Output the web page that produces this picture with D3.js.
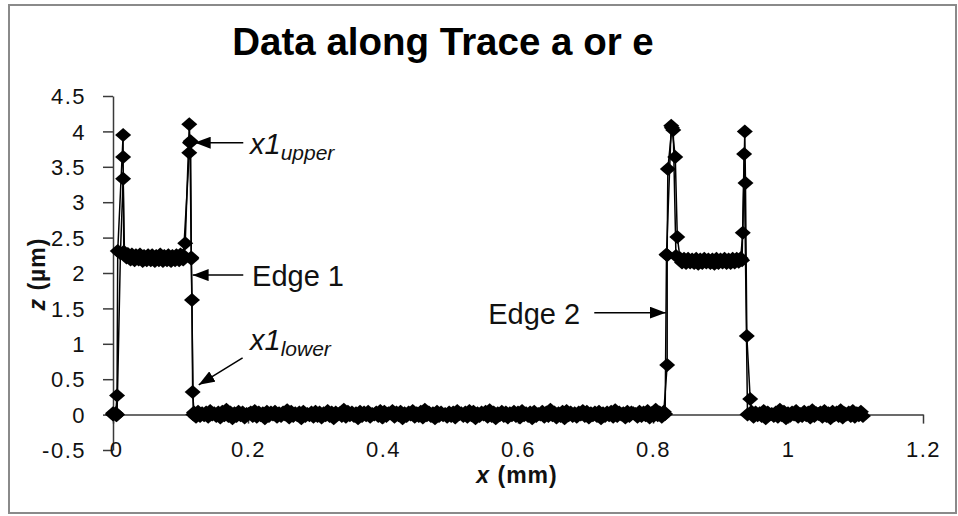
<!DOCTYPE html>
<html><head><meta charset="utf-8">
<script src="https://cdn.jsdelivr.net/npm/d3@7"></script>
<style>
body{margin:0;background:#fff}
svg{display:block}
text{font-family:"Liberation Sans",Arial,sans-serif;fill:#111}
</style>
</head><body>
<svg id="chart" width="958" height="516"></svg>
<script>
const chartTitle = "Data along Trace a or e";
const xTicks = [0, 0.2, 0.4, 0.6, 0.8, 1, 1.2];
const yTicks = [-0.5, 0, 0.5, 1, 1.5, 2, 2.5, 3, 3.5, 4, 4.5];

// Trace a : [x (mm), z (µm)]
const traceA = [
  [0.000,0.00],[0.004,0.02],[0.006,0.27],[0.007,2.31],[0.015,3.95],[0.015,3.64],[0.016,2.30],
  [0.022,2.27],[0.028,2.26],[0.034,2.25],[0.040,2.26],[0.046,2.24],[0.052,2.25],[0.058,2.25],[0.064,2.24],
  [0.070,2.26],[0.076,2.24],[0.082,2.25],[0.088,2.24],[0.094,2.25],[0.100,2.26],[0.104,2.25],
  [0.107,2.42],[0.113,4.10],[0.114,3.84],[0.116,2.22],[0.117,1.62],[0.118,0.32],
  [0.120,0.03],[0.126,0.04],[0.132,0.02],[0.138,0.03],[0.144,0.05],[0.150,0.02],[0.156,0.03],[0.162,0.04],[0.168,0.07],[0.174,0.03],
  [0.180,0.02],[0.186,0.04],[0.192,0.03],[0.198,0.01],[0.204,0.03],[0.210,0.05],[0.216,0.03],[0.222,0.02],[0.228,0.04],[0.234,0.03],
  [0.240,0.04],[0.246,0.02],[0.252,0.03],[0.258,0.06],[0.264,0.04],[0.270,0.02],[0.276,0.03],[0.282,0.04],[0.288,0.01],[0.294,0.03],
  [0.300,0.04],[0.306,0.03],[0.312,0.02],[0.318,0.05],[0.324,0.03],[0.330,0.03],[0.336,0.02],[0.342,0.07],[0.348,0.04],[0.354,0.03],
  [0.360,0.02],[0.366,0.04],[0.372,0.03],[0.378,0.04],[0.384,0.01],[0.390,0.03],[0.396,0.05],[0.402,0.04],[0.408,0.02],[0.414,0.05],
  [0.420,0.03],[0.426,0.04],[0.432,0.02],[0.438,0.03],[0.444,0.05],[0.450,0.02],[0.456,0.04],[0.462,0.07],[0.468,0.03],[0.474,0.02],
  [0.480,0.04],[0.486,0.03],[0.492,0.01],[0.498,0.03],[0.504,0.03],[0.510,0.05],[0.516,0.02],[0.522,0.03],[0.528,0.05],[0.534,0.04],
  [0.540,0.02],[0.546,0.03],[0.552,0.04],[0.558,0.06],[0.564,0.03],[0.570,0.02],[0.576,0.04],[0.582,0.03],[0.588,0.02],[0.594,0.04],
  [0.600,0.03],[0.606,0.05],[0.612,0.02],[0.618,0.03],[0.624,0.04],[0.630,0.01],[0.636,0.04],[0.642,0.03],[0.648,0.07],[0.654,0.03],
  [0.660,0.02],[0.666,0.04],[0.672,0.05],[0.678,0.03],[0.684,0.02],[0.690,0.03],[0.696,0.05],[0.702,0.04],[0.708,0.02],[0.714,0.03],
  [0.720,0.04],[0.726,0.02],[0.732,0.03],[0.738,0.04],[0.744,0.06],[0.750,0.03],[0.756,0.02],[0.762,0.04],[0.768,0.03],[0.774,0.01],
  [0.780,0.04],[0.786,0.03],[0.792,0.05],[0.798,0.02],[0.804,0.07],[0.810,0.03],[0.816,0.04],
  [0.821,0.70],[0.821,2.25],[0.822,3.47],[0.828,4.05],[0.833,3.64],[0.836,2.51],
  [0.840,2.21],[0.846,2.20],[0.852,2.20],[0.858,2.19],[0.864,2.20],[0.870,2.19],[0.876,2.20],[0.882,2.19],
  [0.888,2.19],[0.894,2.20],[0.900,2.19],[0.906,2.20],[0.912,2.19],[0.918,2.20],[0.924,2.20],[0.930,2.21],
  [0.933,2.57],[0.936,4.00],[0.937,3.27],[0.939,1.11],[0.944,0.22],
  [0.946,0.04],[0.952,0.03],[0.958,0.02],[0.964,0.05],[0.970,0.03],[0.976,0.01],[0.982,0.03],[0.988,0.07],[0.994,0.04],[1.000,0.02],
  [1.006,0.03],[1.012,0.05],[1.018,0.01],[1.024,0.04],[1.030,0.03],[1.036,0.06],[1.042,0.02],[1.048,0.03],[1.054,0.05],[1.060,0.02],
  [1.066,0.04],[1.072,0.03],[1.078,0.06],[1.084,0.02],[1.090,0.03],[1.096,0.05],[1.102,0.02],[1.108,0.04]
];

// Trace e : [x (mm), z (µm)]
const traceE = [
  [0.000,0.02],[0.005,-0.01],[0.006,0.00],[0.011,2.28],[0.015,3.33],[0.017,2.27],
  [0.020,2.22],[0.026,2.19],[0.032,2.18],[0.038,2.19],[0.044,2.17],[0.050,2.18],[0.056,2.18],[0.062,2.17],
  [0.068,2.18],[0.074,2.17],[0.080,2.18],[0.086,2.17],[0.092,2.18],[0.098,2.18],[0.104,2.19],
  [0.113,3.70],[0.115,3.86],[0.116,2.20],[0.119,0.00],
  [0.123,-0.03],[0.129,-0.02],[0.135,-0.01],[0.141,-0.03],[0.147,0.00],[0.153,-0.02],[0.159,-0.04],[0.165,-0.01],[0.171,-0.02],[0.177,-0.05],
  [0.183,-0.02],[0.189,-0.01],[0.195,-0.04],[0.201,0.01],[0.207,-0.02],[0.213,-0.03],[0.219,-0.01],[0.225,-0.05],[0.231,-0.02],[0.237,0.00],
  [0.243,-0.03],[0.249,-0.02],[0.255,0.00],[0.261,-0.04],[0.267,-0.02],[0.273,-0.01],[0.279,-0.05],[0.285,-0.02],[0.291,-0.01],[0.297,-0.03],
  [0.303,-0.02],[0.309,-0.04],[0.315,-0.01],[0.321,-0.02],[0.327,-0.05],[0.333,0.00],[0.339,-0.02],[0.345,-0.03],[0.351,-0.01],[0.357,-0.02],
  [0.363,-0.05],[0.369,-0.02],[0.375,-0.01],[0.381,-0.03],[0.387,0.00],[0.393,-0.02],[0.399,-0.04],[0.405,-0.02],[0.411,0.02],[0.417,-0.03],
  [0.423,-0.01],[0.429,-0.05],[0.435,-0.02],[0.441,0.00],[0.447,-0.03],[0.453,-0.02],[0.459,-0.04],[0.465,-0.01],[0.471,-0.02],[0.477,-0.05],
  [0.483,-0.02],[0.489,-0.01],[0.495,-0.03],[0.501,-0.02],[0.507,-0.04],[0.513,0.01],[0.519,-0.02],[0.525,-0.03],[0.531,-0.01],[0.537,-0.05],
  [0.543,-0.02],[0.549,0.00],[0.555,-0.03],[0.561,-0.02],[0.567,-0.05],[0.573,-0.01],[0.579,-0.02],[0.585,-0.04],[0.591,-0.01],[0.597,-0.02],
  [0.603,-0.04],[0.609,-0.01],[0.615,-0.02],[0.621,-0.05],[0.627,-0.02],[0.633,0.00],[0.639,-0.03],[0.645,-0.02],[0.651,-0.01],[0.657,-0.04],
  [0.663,-0.02],[0.669,-0.05],[0.675,-0.01],[0.681,-0.02],[0.687,-0.03],[0.693,0.00],[0.699,-0.02],[0.705,-0.04],[0.711,-0.01],[0.717,-0.02],
  [0.723,-0.05],[0.729,-0.02],[0.735,-0.01],[0.741,-0.03],[0.747,-0.02],[0.753,0.00],[0.759,-0.04],[0.765,-0.02],[0.771,0.02],[0.777,-0.03],
  [0.783,-0.02],[0.789,-0.01],[0.795,-0.04],[0.801,-0.02],[0.807,-0.01],[0.813,-0.03],
  [0.818,0.01],[0.820,2.26],[0.827,4.08],[0.830,4.02],[0.834,2.24],
  [0.843,2.15],[0.849,2.14],[0.855,2.15],[0.861,2.14],[0.867,2.13],[0.873,2.14],[0.879,2.15],[0.885,2.14],
  [0.891,2.13],[0.897,2.14],[0.903,2.15],[0.909,2.14],[0.915,2.14],[0.921,2.15],[0.927,2.16],[0.932,2.18],
  [0.935,3.68],[0.940,0.00],
  [0.949,-0.03],[0.955,-0.01],[0.961,-0.02],[0.967,-0.05],[0.973,0.00],[0.979,-0.02],[0.985,-0.03],[0.991,-0.01],[0.997,-0.05],[1.003,-0.02],
  [1.009,0.00],[1.015,-0.03],[1.021,-0.02],[1.027,-0.01],[1.033,-0.04],[1.039,-0.02],[1.045,0.01],[1.051,-0.03],[1.057,-0.02],[1.063,-0.05],
  [1.069,-0.01],[1.075,-0.02],[1.081,-0.04],[1.087,0.00],[1.093,-0.02],[1.099,-0.03],[1.105,-0.01],[1.111,-0.02]
];

// Annotations: label, subscript, arrow tail [x,z] and head [x,z]
const annotations = [
  {text:"x1", sub:"upper", italic:true,  from:[0.193,3.84], to:[0.121,3.84]},
  {text:"Edge 1", sub:"", italic:false, from:[0.193,1.97], to:[0.118,1.97]},
  {text:"x1", sub:"lower", italic:true,  from:[0.192,0.80], to:[0.127,0.42]},
  {text:"Edge 2", sub:"", italic:false, from:[0.713,1.44], to:[0.819,1.44]}
];

const svg = d3.select("#chart");
const x = d3.scaleLinear().domain([0, 1.2]).range([113, 923]);
const y = d3.scaleLinear().domain([-0.5, 4.5]).range([450, 96]);

// outer chart frame
svg.append("rect").attr("x", 9).attr("y", 5).attr("width", 947).attr("height", 508)
  .attr("fill", "#fff").attr("stroke", "#8a8a8a").attr("stroke-width", 2);

// title
svg.append("text").attr("x", 443).attr("y", 55).attr("text-anchor", "middle")
  .style("font-size", "38.5px").style("font-weight", "bold").style("fill", "#000")
  .text(chartTitle);

const axisColor = "#3a3a3a";
const fmt = d => String(d);
// y axis
const yAxis = svg.append("g").attr("transform", `translate(${x(0)},0)`)
  .call(d3.axisLeft(y).tickValues(yTicks).tickSize(10).tickSizeOuter(0).tickPadding(17).tickFormat(fmt));
yAxis.select(".domain").attr("stroke", axisColor).attr("stroke-width", 1.5);
yAxis.selectAll(".tick line").attr("stroke", axisColor).attr("stroke-width", 1.5);
yAxis.selectAll(".tick text").style("font-size", "22px").style("font-family", "'Liberation Sans',Arial,sans-serif")
  .attr("fill", "#111").attr("dy", "0.35em").style("letter-spacing", "1.5px");

// x axis at z = 0, labels at the bottom
const xAxis = svg.append("g").attr("transform", `translate(0,${y(0)})`)
  .call(d3.axisBottom(x).tickValues(xTicks).tickSize(9).tickSizeOuter(0).tickFormat(() => ""));
xAxis.select(".domain").attr("stroke", axisColor).attr("stroke-width", 1.5);
xAxis.selectAll(".tick line").attr("stroke", axisColor).attr("stroke-width", 1.5);
const xLab = svg.append("g").attr("transform", `translate(0,${y(-0.5)})`)
  .call(d3.axisBottom(x).tickValues(xTicks).tickSize(0).tickPadding(0).tickFormat(fmt));
xLab.select(".domain").remove();
xLab.selectAll(".tick text").style("font-size", "22px").style("font-family", "'Liberation Sans',Arial,sans-serif")
  .attr("fill", "#111").attr("dy", "0.3em").attr("y", 0).style("letter-spacing", "1.5px");
xLab.selectAll(".tick").filter(d => d === 0).select("text").attr("dx", 3);

// axis titles
const xt = svg.append("text").attr("x", 517).attr("y", 483).attr("text-anchor", "middle")
  .style("font-size", "23px").style("font-weight", "bold").style("letter-spacing", "1px");
xt.append("tspan").style("font-style", "italic").text("x");
xt.append("tspan").text(" (mm)");
const yt = svg.append("text").attr("transform", "translate(45,274) rotate(-90)").attr("text-anchor", "middle")
  .style("font-size", "23px").style("font-weight", "bold").style("letter-spacing", "1px");
yt.append("tspan").style("font-style", "italic").text("z");
yt.append("tspan").text(" (µm)");

// series
const line = d3.line().x(d => x(d[0])).y(d => y(d[1]));
const diamond = "M0,-7L8,0L0,7L-8,0Z";
[traceA, traceE].forEach(s => {
  svg.append("path").datum(s).attr("d", line).attr("fill", "none")
    .attr("stroke", "#000").attr("stroke-width", 1.5);
});
[traceA, traceE].forEach(s => {
  svg.append("g").selectAll("path").data(s).join("path")
    .attr("d", diamond).attr("transform", d => `translate(${x(d[0])},${y(d[1])})`)
    .attr("fill", "#000");
});

// annotations
svg.append("defs").append("marker").attr("id", "ah").attr("viewBox", "0 0 16 12")
  .attr("refX", 16).attr("refY", 6).attr("markerWidth", 16).attr("markerHeight", 12)
  .attr("markerUnits", "userSpaceOnUse").attr("orient", "auto")
  .append("path").attr("d", "M0,0L16,6L0,12Z").attr("fill", "#000");

annotations.forEach(a => {
  svg.append("line").attr("x1", x(a.from[0])).attr("y1", y(a.from[1]))
    .attr("x2", x(a.to[0])).attr("y2", y(a.to[1]))
    .attr("stroke", "#000").attr("stroke-width", 1.5).attr("marker-end", "url(#ah)");
});
function label(tx, ty, a, anchor) {
  const t = svg.append("text").attr("x", tx).attr("y", ty).attr("text-anchor", anchor || "start")
    .style("font-size", "29px");
  const m = t.append("tspan").text(a.text);
  if (a.italic) m.style("font-style", "italic");
  if (a.sub) t.append("tspan").attr("dy", 6).style("font-size", "21px").style("font-style", "italic").text(a.sub);
}
label(x(0.203), y(3.84) + 11, annotations[0]);
label(x(0.206), y(1.97) + 11, annotations[1]);
label(x(0.203), y(0.80) - 8, annotations[2]);
label(x(0.692), y(1.44) + 11, annotations[3], "end");
</script>
</body></html>
